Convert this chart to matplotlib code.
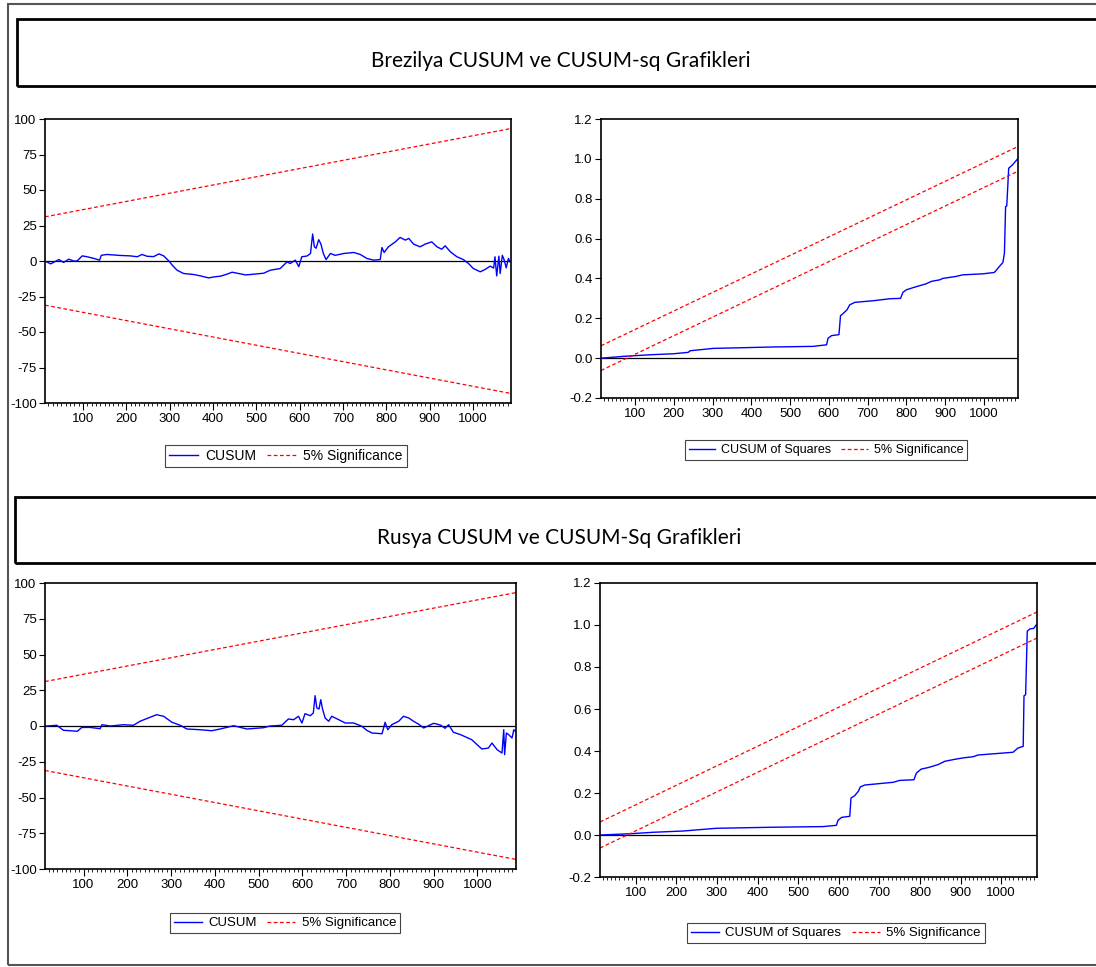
import matplotlib
matplotlib.use("Agg")
import matplotlib.pyplot as plt
from matplotlib.patches import Rectangle
from matplotlib.ticker import MultipleLocator, FormatStrFormatter

plt.rcParams['font.family'] = ['Liberation Sans', 'DejaVu Sans']
plt.rcParams['axes.unicode_minus'] = False

W, H = 1096, 967

# observation range of the recursive residuals
x_range = [12, 1088]

# Brezilya - CUSUM
br_cusum_x = [15, 25, 44, 55, 67, 78, 86, 98, 109, 125, 138, 142, 155, 186, 209, 225, 236,
              248, 263, 275, 286, 298, 306, 317, 332, 355, 371, 390, 402, 417, 432, 444,
              459, 475, 494, 517, 532, 555, 571, 578, 590, 598, 605, 617, 625, 630, 634,
              638, 644, 649, 655, 661, 671, 682, 702, 725, 740, 755, 771, 786, 790, 795,
              805, 821, 832, 844, 852, 863, 878, 890, 905, 917, 928, 936, 948, 963, 978,
              990, 1001, 1017, 1028, 1040, 1048, 1051, 1055, 1060, 1063, 1068, 1072, 1077,
              1082, 1086]
br_cusum_y = [-0.5, -2, 1, -1, 1.3, 0, 0, 3.6, 3, 1.8, 0.6, 4, 4.6, 3.9, 3.6, 3, 4.6,
              3.3, 3.1, 5, 3.6, 0, -3, -6.5, -8.8, -9.5, -10.5, -11.9, -11.2, -10.7, -9.3,
              -7.9, -8.8, -9.8, -9.3, -8.6, -6.5, -5.3, -0.6, -1.8, 0.6, -4, 3, 3.5, 5.3,
              19, 10, 9, 15, 12, 5, 1, 5.3, 4, 5.3, 6, 4.6, 1.8, 0.6, 1, 9.5, 6, 10, 13.5,
              16.6, 14.7, 15.9, 11.9, 10, 11.9, 13.5, 10, 8.3, 10.7, 6.5, 3, 1, -1.8, -5.3,
              -7.6, -6, -3.6, -5, 3, -10.5, 3.4, -8.8, 4, 1, -4.8, 1.8, -0.6]

# Brezilya - CUSUM of squares
br_sq_x = [14, 70, 139, 199, 237, 242, 302, 371, 456, 559, 594, 598, 607, 626, 630, 638,
           647, 654, 667, 714, 757, 785, 791, 800, 821, 851, 864, 886, 894, 928, 945, 997,
           1027, 1040, 1049, 1053, 1056, 1059, 1064, 1074, 1087]
br_sq_y = [0.0, 0.009, 0.017, 0.022, 0.029, 0.037, 0.049, 0.052, 0.056, 0.059, 0.067, 0.10,
           0.113, 0.118, 0.213, 0.226, 0.243, 0.268, 0.28, 0.288, 0.298, 0.30, 0.33, 0.343,
           0.356, 0.373, 0.385, 0.393, 0.40, 0.41, 0.418, 0.423, 0.43, 0.46, 0.48, 0.527,
           0.76, 0.764, 0.953, 0.97, 1.0]

# Rusya - CUSUM
ru_cusum_x = [16, 39, 54, 69, 86, 96, 115, 138, 142, 161, 191, 214, 229, 248, 267, 283,
              302, 321, 336, 366, 393, 412, 443, 473, 511, 526, 553, 568, 580, 591, 599,
              606, 618, 625, 629, 633, 638, 642, 646, 652, 660, 667, 683, 698, 717, 736,
              747, 759, 782, 789, 795, 804, 820, 831, 843, 854, 865, 877, 900, 915, 926,
              934, 945, 961, 987, 1010, 1025, 1033, 1045, 1056, 1060, 1062, 1066, 1071,
              1079, 1083, 1087]
ru_cusum_y = [0, 0.5, -3, -3.3, -3.7, -1, -1, -1.9, 0.9, 0, 0.9, 0.5, 3.3, 5.6, 7.9, 6.8,
              2.6, 0.5, -2.1, -2.6, -3.3, -2.1, 0.2, -2.1, -1.2, 0, 0.5, 4.9, 4.4, 6.8, 2.1,
              8.6, 7.2, 9.1, 21.2, 12.6, 11.9, 18.4, 11.9, 5.6, 3.3, 6.8, 4.4, 2.1, 2.1,
              -0.2, -3, -4.9, -5.4, 2.6, -2.6, 0.9, 3.3, 6.8, 5.6, 3.3, 1.4, -1.4, 1.9, 0.7,
              -1.6, 0.9, -4.4, -6, -9.6, -16.1, -15.4, -11.9, -16.6, -18.9, -2.6, -20, -4.9,
              -6, -8.4, -2.6, -3.7]

# Rusya - CUSUM of squares
ru_sq_x = [14, 86, 143, 217, 299, 438, 561, 594, 598, 607, 627, 630, 639, 648, 653, 664,
           734, 750, 785, 791, 803, 820, 844, 861, 890, 906, 931, 943, 1029, 1041, 1054,
           1056, 1060, 1064, 1070, 1080, 1086]
ru_sq_y = [0.0, 0.006, 0.013, 0.019, 0.032, 0.037, 0.04, 0.046, 0.07, 0.084, 0.089, 0.176,
           0.187, 0.208, 0.229, 0.238, 0.251, 0.26, 0.263, 0.295, 0.314, 0.321, 0.335,
           0.351, 0.362, 0.367, 0.373, 0.381, 0.394, 0.414, 0.422, 0.663, 0.668, 0.97,
           0.981, 0.984, 1.0]

# 5% significance bands at both ends of the range
cusum_upper = [31.1, 93.3]
cusum_lower = [-31.1, -93.3]
sq_upper = [0.062, 1.062]
sq_lower = [-0.062, 0.938]

titles = ["Brezilya CUSUM ve CUSUM-sq Grafikleri", "Rusya CUSUM ve CUSUM-Sq Grafikleri"]


def box(x0, y0, x1, y1):
    # pixel box -> figure fraction rect
    return [x0 / W, 1 - y1 / H, (x1 - x0) / W, (y1 - y0) / H]


fig = plt.figure(figsize=(W / 100, H / 100), dpi=100)
fig.patch.set_facecolor('white')


def panel(rect, xs, ys, lo, hi, label, ylim, ystep, fmt, leg_xy, leg_fs):
    ax = fig.add_axes(box(*rect))
    l1, = ax.plot(xs, ys, color='#0000ff', lw=1.0)
    l2, = ax.plot(x_range, hi, color='#ff0000', lw=0.9, ls=(0, (3, 2)))
    ax.plot(x_range, lo, color='#ff0000', lw=0.9, ls=(0, (3, 2)))
    ax.axhline(0, color='black', lw=0.9, zorder=1)
    ax.set_xlim(x_range)
    ax.set_ylim(ylim)
    ax.xaxis.set_major_locator(MultipleLocator(100))
    ax.xaxis.set_minor_locator(MultipleLocator(10))
    ax.yaxis.set_major_locator(MultipleLocator(ystep))
    ax.yaxis.set_major_formatter(FormatStrFormatter(fmt))
    ax.tick_params(direction='out', labelsize=9.5, colors='black', width=0.8)
    ax.tick_params(axis='x', which='major', length=5, pad=2)
    ax.tick_params(axis='x', which='minor', length=2.5, width=0.6)
    ax.tick_params(axis='y', length=4, pad=2)
    for s in ax.spines.values():
        s.set_linewidth(1.2)
    leg = fig.legend([l1, l2], [label, '5% Significance'], loc='center',
                     bbox_to_anchor=(leg_xy[0] / W, 1 - leg_xy[1] / H), ncol=2,
                     fancybox=False, edgecolor='#444444', fontsize=leg_fs, handlelength=2.1,
                     borderpad=0.3, columnspacing=0.8, handletextpad=0.5, framealpha=1)
    leg.get_frame().set_linewidth(0.8)
    return ax


panel((45, 119, 511, 403), br_cusum_x, br_cusum_y, cusum_lower, cusum_upper, 'CUSUM',
      (-100, 100), 25, '%d', (286, 456), 10)
panel((601, 119, 1018, 398), br_sq_x, br_sq_y, sq_lower, sq_upper, 'CUSUM of Squares',
      (-0.2, 1.2), 0.2, '%.1f', (826, 450), 9)
panel((45, 583, 516, 869), ru_cusum_x, ru_cusum_y, cusum_lower, cusum_upper, 'CUSUM',
      (-100, 100), 25, '%d', (285, 923), 9.5)
panel((600, 583, 1037, 877), ru_sq_x, ru_sq_y, sq_lower, sq_upper, 'CUSUM of Squares',
      (-0.2, 1.2), 0.2, '%.1f', (836, 933), 9.5)

# outer frame and title boxes (run off the right edge like the screenshot)
fig.patches.append(Rectangle((8 / W, 1 - 965 / H), 1100 / W, 961 / H, fill=False,
                             edgecolor='#555555', lw=1.5, transform=fig.transFigure))
fig.patches.append(Rectangle((17 / W, 1 - 86 / H), 1100 / W, 67 / H, fill=False,
                             edgecolor='black', lw=2, transform=fig.transFigure))
fig.patches.append(Rectangle((15 / W, 1 - 563 / H), 1100 / W, 66 / H, fill=False,
                             edgecolor='black', lw=2, transform=fig.transFigure))

fig.text(561 / W, 1 - 61 / H, titles[0], ha='center', va='center', fontsize=15,
         family=['Lato', 'DejaVu Sans'])
fig.text(559 / W, 1 - 538 / H, titles[1], ha='center', va='center', fontsize=15,
         family=['Lato', 'DejaVu Sans'])

fig.savefig('out.png', dpi=100)
